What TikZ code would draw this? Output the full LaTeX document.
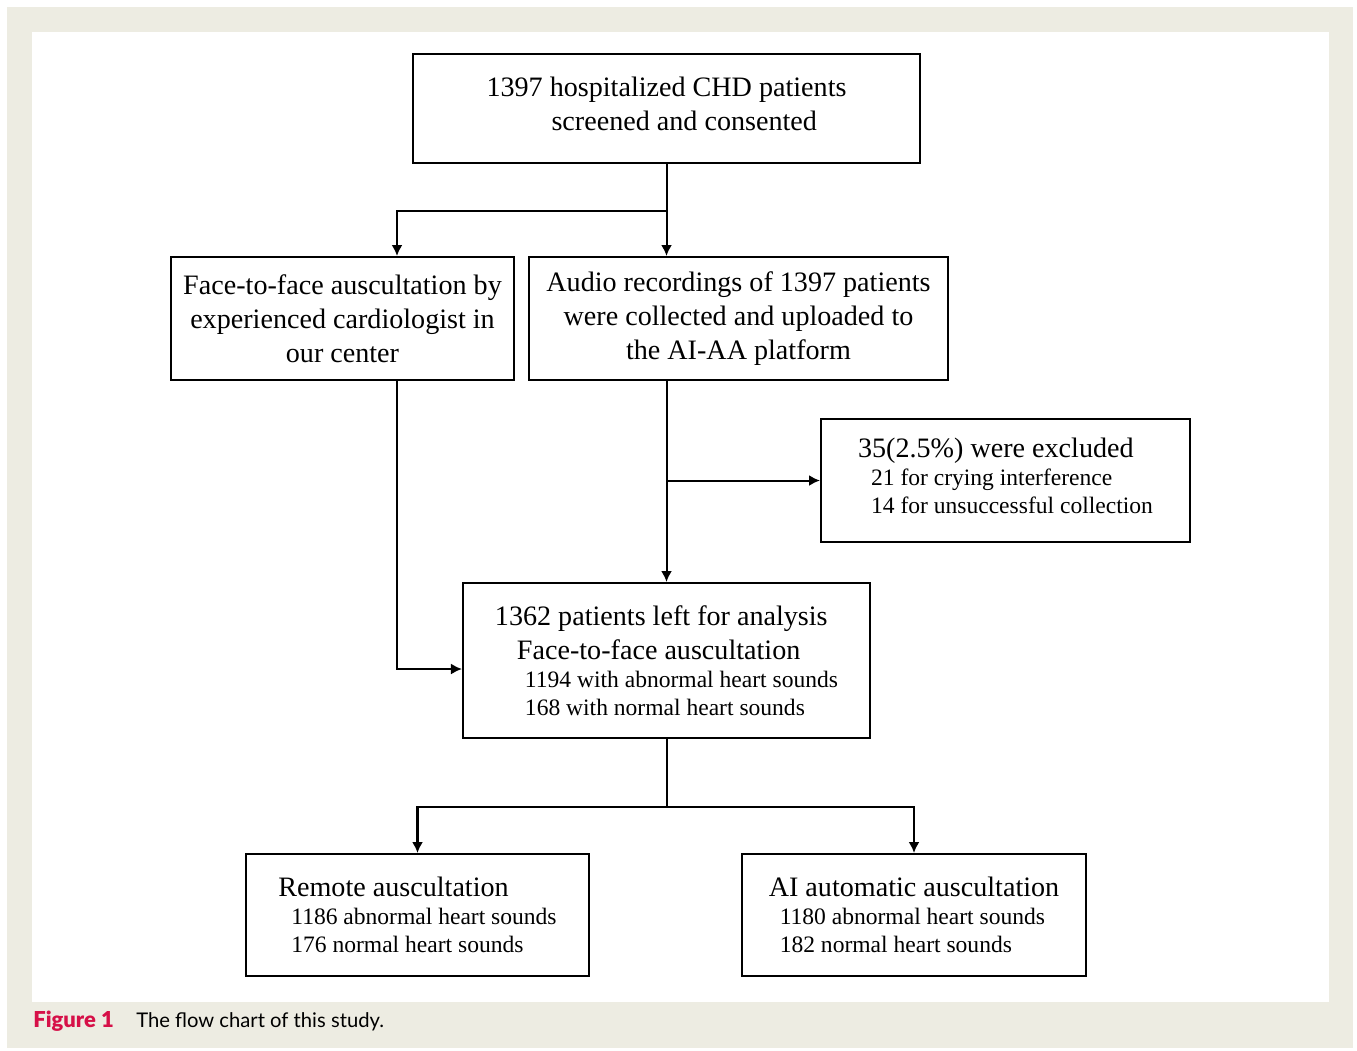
\documentclass[tikz,border=0pt]{standalone}
\usepackage{fontspec}
\setmainfont{Liberation Serif}
\newfontfamily\capfont[BoldFont={Lato Black}]{Lato}
\usetikzlibrary{arrows.meta,positioning}
\definecolor{framebg}{RGB}{237,236,226}
\definecolor{figred}{RGB}{214,16,72}
\newcommand{\bigtxt}{\fontsize{16}{19.35}\selectfont}
\newcommand{\smalltxt}{\fontsize{13.4}{15.9}\selectfont}

\begin{document}
\begin{tikzpicture}[
  box/.style={draw, line width=1.15pt, inner sep=0pt, align=center, font=\bigtxt},
  subbox/.style={box, align=left, font=\smalltxt},
  line/.style={line width=1.15pt},
  arr/.style={line, -{Latex[length=2.2mm,width=2.2mm]}}
]
% frame and panel
\useasboundingbox (0,0) rectangle (27.14,-21);
\fill[framebg] (0.14,-0.14) rectangle (27.06,-20.96);
\fill[white] (0.64,-0.64) rectangle (26.58,-20.04);

\node[box, align=left, minimum width=10.14cm, minimum height=2.18cm] (top) at (13.33,-2.17)
  {1397 hospitalized CHD patients\\\hspace*{1.3cm}screened and consented\\[-0.48cm]};
\node[box, minimum width=6.86cm, minimum height=2.46cm] (face) at (6.85,-6.37)
  {Face-to-face auscultation by\\experienced cardiologist in\\our center};
\node[box, minimum width=8.38cm, minimum height=2.46cm] (audio) at (14.77,-6.37)
  {Audio recordings of 1397 patients\\were collected and uploaded to\\the AI-AA platform};
\node[subbox, minimum width=7.38cm, minimum height=2.46cm] (excl) at (20.11,-9.61)
  {{\bigtxt 35(2.5\%) were excluded}\\\hspace*{0.26cm}21 for crying interference\\\hspace*{0.26cm}14 for unsuccessful collection\\[-0.36cm]};
\node[subbox, minimum width=8.14cm, minimum height=3.10cm] (ana) at (13.33,-13.21)
  {{\bigtxt 1362 patients left for analysis}\\[0.12cm]\hspace*{0.44cm}{\bigtxt Face-to-face auscultation}\\\hspace*{0.6cm}1194 with abnormal heart sounds\\\hspace*{0.6cm}168 with normal heart sounds};
\node[subbox, minimum width=6.86cm, minimum height=2.44cm] (remote) at (8.35,-18.30)
  {{\bigtxt Remote auscultation}\\\hspace*{0.26cm}1186 abnormal heart sounds\\\hspace*{0.26cm}176 normal heart sounds};
\node[subbox, minimum width=6.88cm, minimum height=2.44cm] (ai) at (18.28,-18.30)
  {{\bigtxt AI automatic auscultation}\\\hspace*{0.22cm}1180 abnormal heart sounds\\\hspace*{0.22cm}182 normal heart sounds};

% connectors
\coordinate[below=0.94cm of top] (topsplit);
\coordinate[below=1.36cm of ana] (anasplit);
\draw[arr] (top.south) -- (top.south |- audio.north);
\draw[arr] (topsplit) -| ([xshift=1.09cm]face.north);
\draw[arr] (audio.south -| ana.north) -- (ana.north);
\draw[arr] (ana.north |- excl.west) -- (excl.west);
\draw[arr] ([xshift=1.09cm]face.south) |- ([yshift=-0.17cm]ana.west);
\draw[line] (ana.south) -- (anasplit);
\draw[arr] (anasplit) -| (remote.north);
\draw[arr] (anasplit) -| (ai.north);

% caption
\node[anchor=base west, inner sep=0pt, font=\capfont\fontsize{11.5}{14}\selectfont] (cap) at (0.66,-20.54)
  {\textcolor{figred}{\fontsize{12.5}{14}\selectfont\bfseries Figure 1}\hspace{0.45cm}The flow chart of this study.};
\end{tikzpicture}
\end{document}
